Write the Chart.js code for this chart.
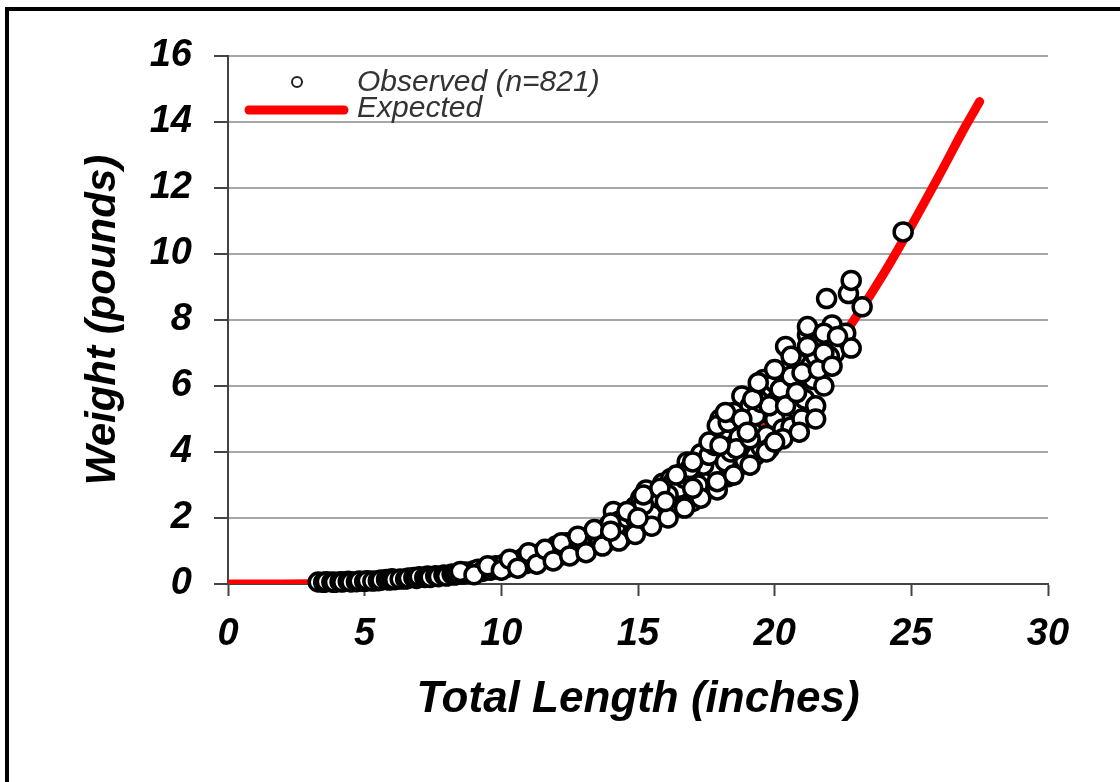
<!DOCTYPE html>
<html>
<head>
<meta charset="utf-8">
<script src="https://cdn.jsdelivr.net/npm/chart.js@4.4.1/dist/chart.umd.min.js"></script>
<style>
  html, body { margin: 0; padding: 0; background: #fff; overflow: hidden; }
  #wrap { position: relative; width: 1120px; height: 782px; }
  #frame { position: absolute; left: 5px; top: 7px; width: 1300px; height: 900px;
           border-left: 4px solid #000; border-top: 4px solid #000; pointer-events: none; }
  canvas { position: absolute; left: 0; top: 0; }
</style>
</head>
<body>
<div id="wrap">
  <div id="frame"></div>
  <canvas id="c" width="1120" height="782"></canvas>
</div>
<script>
// ---- Data ----
const xTickLabels = ["0", "5", "10", "15", "20", "25", "30"];
const yTickLabels = ["0", "2", "4", "6", "8", "10", "12", "14", "16"];
const legendLabels = ["Observed (n=821)", "Expected"];
const xTitle = "Total Length (inches)";
const yTitle = "Weight (pounds)";

// Observed: total length (inches)
const obsLength = [
  3.3,3.5,3.6,3.8,3.9,4.1,4.2,4.4,4.5,4.7,4.8,5.0,5.1,5.3,5.5,5.6,5.8,5.9,6.0,6.1,
  6.3,6.5,6.6,6.8,6.9,7.0,7.2,7.3,7.4,7.6,7.7,7.9,8.0,8.2,8.3,8.4,8.6,8.7,8.9,9.0,
  9.15,9.3,9.4,9.6,9.7,9.8,9.9,10.0,10.1,10.2,10.4,10.5,10.6,10.7,10.8,10.9,11.05,11.1,11.2,11.3,
  11.4,11.5,11.6,11.7,11.8,11.9,12.0,12.1,12.2,12.3,12.4,12.5,12.6,12.7,12.8,12.9,13.0,13.1,13.2,13.3,
  13.4,13.5,13.6,13.7,13.8,13.9,14.0,14.1,14.2,14.3,14.4,14.5,14.6,14.7,14.8,14.9,15.0,15.1,15.2,15.3,
  15.3,15.4,15.5,15.6,15.7,15.8,15.9,16.0,16.1,16.2,16.3,16.4,16.5,16.6,16.7,16.8,16.9,17.0,17.1,17.2,
  17.3,17.4,17.5,17.6,17.7,17.8,17.9,18.0,18.0,18.1,18.2,18.3,18.4,18.5,18.6,18.7,18.7,18.8,18.9,19.0,
  19.0,19.1,19.2,19.3,19.4,19.5,19.6,19.6,19.7,19.8,19.9,20.0,20.1,20.2,20.3,20.4,20.5,20.6,20.7,20.8,
  20.9,21.0,21.1,21.2,21.2,21.3,21.4,21.5,21.6,21.7,21.8,21.9,21.9,22.1,22.2,22.6,22.7,22.8,22.8,23.2,
  24.7,
  14.2,14.6,15.0,15.5,15.8,16.0,16.3,16.5,16.7,17.0,17.2,17.4,17.6,17.8,18.2,18.4,18.6,18.9,19.1,19.3,
  19.5,19.8,20.0,20.2,20.4,20.6,20.8,21.0,21.3,21.5,21.6,21.8,22.0,22.3,17.9,18.3,18.5,19.2,15.2,16.1,
  16.9,13.8,14.9,12.9,12.0,
  8.5,9.0,9.5,10.0,10.3,10.6,11.0,11.3,11.6,11.9,12.2,12.5,12.8,13.1,13.4,13.7,14.0,14.3,14.6,14.9,
  15.2,15.5,15.8,16.1,16.4,16.7,17.0,17.3,17.6,17.9,18.2,18.5,18.8,19.1,19.4,19.7,20.0,20.3,20.6,20.9,
  21.2,21.5,21.8,22.1,20.0,19.0,18.0,17.0,16.0,15.0,14.0
];
// Observed: weight (pounds)
const obsWeight = [
  0.06,0.05,0.07,0.06,0.05,0.07,0.06,0.08,0.06,0.07,0.09,0.08,0.10,0.09,0.10,0.12,0.14,0.12,0.16,0.13,
  0.15,0.15,0.18,0.20,0.17,0.22,0.20,0.24,0.20,0.25,0.22,0.27,0.24,0.30,0.27,0.32,0.30,0.36,0.33,0.40,
  0.45,0.38,0.46,0.42,0.50,0.55,0.45,0.52,0.60,0.50,0.62,0.70,0.58,0.66,0.78,0.62,0.73,0.85,0.68,0.80,
  0.92,0.75,0.86,0.88,1.00,0.80,0.95,1.10,0.88,1.08,1.25,0.95,1.15,1.30,1.05,1.20,1.40,1.10,1.30,1.50,
  1.20,1.63,1.35,1.55,1.25,1.75,1.45,2.20,1.60,1.90,1.40,1.88,1.65,2.10,1.55,2.35,1.80,2.60,2.00,2.85,
  2.20,1.85,2.45,2.05,2.75,2.30,3.05,2.15,2.45,3.20,2.60,2.90,2.35,3.35,2.70,3.70,3.00,2.50,2.80,3.40,
  3.95,2.90,3.75,3.15,4.10,3.50,2.85,5.00,4.60,3.85,4.40,3.25,3.55,4.20,4.80,4.45,3.60,5.70,3.75,5.10,
  4.15,5.40,4.60,3.90,5.85,4.15,6.20,5.20,4.50,4.10,5.90,5.00,5.60,5.50,4.70,7.20,6.50,4.76,6.00,5.30,
  6.80,5.00,5.60,7.55,7.80,6.60,6.20,5.40,7.30,6.90,6.00,8.65,6.60,7.85,7.00,7.60,8.80,9.20,7.15,8.40,
  10.67,
  1.75,2.00,2.20,2.10,2.60,2.80,3.10,2.90,3.20,3.30,3.00,3.60,3.90,4.20,3.70,4.00,4.10,4.90,4.40,5.10,
  5.50,5.40,6.10,5.90,5.40,6.30,5.80,6.40,7.10,6.90,6.50,7.60,6.90,7.50,4.80,4.90,5.20,5.60,2.40,2.70,
  3.50,1.60,2.00,1.35,1.15,
  0.38,0.28,0.55,0.42,0.75,0.48,0.95,0.60,1.05,0.70,1.25,0.85,1.45,0.95,1.65,1.15,1.85,1.30,2.20,1.50,
  2.70,1.75,2.90,2.00,3.30,2.30,3.70,2.60,4.30,3.10,5.20,3.30,5.00,3.60,6.10,4.00,6.50,4.40,6.90,4.60,
  7.20,5.00,7.00,6.60,4.30,4.60,4.20,2.90,2.50,2.00,1.60
];

// Expected curve, values
const expLength = [0, 1, 2, 3, 4, 5, 6, 7, 8, 9, 10, 11, 12, 13, 14, 15, 16, 17, 18, 19, 20, 21, 22, 23, 24, 25, 26, 27, 27.5];
const expWeight = [0, 0.0001, 0.0015, 0.009, 0.023, 0.049, 0.091, 0.151, 0.236, 0.35, 0.50, 0.68, 0.91, 1.19, 1.53, 1.92, 2.38, 2.92, 3.53, 4.23, 5.02, 5.92, 6.95, 8.12, 9.42, 10.85, 12.35, 13.9, 14.62];

const observedPoints = obsLength.map((v, i) => ({ x: v, y: obsWeight[i] }));
const expectedPoints = expLength.map((v, i) => ({ x: v, y: expWeight[i] }));

const FONT = '"Liberation Sans", Arial, sans-serif';

const legendPlugin = {
  id: 'customLegend',
  afterDraw(chart) {
    const ctx = chart.ctx;
    const a = chart.chartArea;
    ctx.save();
    ctx.beginPath();
    ctx.arc(a.left + 69, a.top + 26, 5, 0, Math.PI * 2);
    ctx.fillStyle = '#fff';
    ctx.fill();
    ctx.lineWidth = 2;
    ctx.strokeStyle = '#222';
    ctx.stroke();
    ctx.beginPath();
    ctx.moveTo(a.left + 21, a.top + 54);
    ctx.lineTo(a.left + 116, a.top + 54);
    ctx.lineCap = 'round';
    ctx.lineWidth = 9;
    ctx.strokeStyle = '#ff0000';
    ctx.stroke();
    ctx.font = 'italic 30px ' + FONT;
    ctx.fillStyle = '#333';
    ctx.textBaseline = 'middle';
    ctx.textAlign = 'left';
    ctx.fillText(legendLabels[0], a.left + 129, a.top + 27);
    ctx.fillText(legendLabels[1], a.left + 129, a.top + 53);
    ctx.restore();
  }
};

new Chart(document.getElementById('c'), {
  type: 'scatter',
  data: {
    datasets: [
      {
        label: legendLabels[0],
        data: observedPoints,
        pointRadius: 9,
        pointHoverRadius: 9,
        pointBorderWidth: 3.5,
        pointBackgroundColor: '#ffffff',
        pointBorderColor: '#000000',
        showLine: false,
        clip: false,
        order: 0
      },
      {
        label: legendLabels[1],
        type: 'line',
        data: expectedPoints,
        borderColor: '#ff0000',
        borderWidth: 9,
        borderCapStyle: 'round',
        pointRadius: 0,
        fill: false,
        cubicInterpolationMode: 'monotone',
        order: 1
      }
    ]
  },
  options: {
    responsive: false,
    animation: false,
    devicePixelRatio: 1,
    layout: { padding: { left: 0, top: 56, right: 72, bottom: 0 } },
    plugins: { legend: { display: false }, tooltip: { enabled: false } },
    scales: {
      x: {
        type: 'linear',
        min: 0, max: 30,
        afterFit: s => { s.height = 198; },
        afterBuildTicks: s => { s.ticks = xTickLabels.map(t => ({ value: Number(t) })); },
        ticks: {
          stepSize: 5,
          padding: 16,
          color: '#000',
          font: { family: FONT, size: 38, style: 'italic', weight: 'bold' },
          callback: (v) => String(v)
        },
        grid: { drawOnChartArea: false, drawTicks: true, tickLength: 12, tickColor: '#444', tickWidth: 2 },
        border: { display: true, color: '#444', width: 2 },
        title: {
          display: true, text: xTitle, color: '#000',
          font: { family: FONT, size: 44, style: 'italic', weight: 'bold' },
          padding: { top: 0, bottom: 56 }
        }
      },
      y: {
        type: 'linear',
        min: 0, max: 16,
        afterFit: s => { s.width = 228; },
        afterBuildTicks: s => { s.ticks = yTickLabels.map(t => ({ value: Number(t) })); },
        ticks: {
          stepSize: 2,
          padding: 22,
          color: '#000',
          font: { family: FONT, size: 38, style: 'italic', weight: 'bold' },
          callback: (v) => String(v)
        },
        grid: { color: '#a6a6a6', lineWidth: 2, drawTicks: true, tickLength: 14, tickColor: '#444', tickWidth: 2 },
        border: { display: true, color: '#444', width: 2 },
        title: {
          display: true, text: yTitle, color: '#000',
          font: { family: FONT, size: 42, style: 'italic', weight: 'bold' },
          padding: { top: 78, bottom: 0 }
        }
      }
    }
  },
  plugins: [legendPlugin]
});
</script>
</body>
</html>
